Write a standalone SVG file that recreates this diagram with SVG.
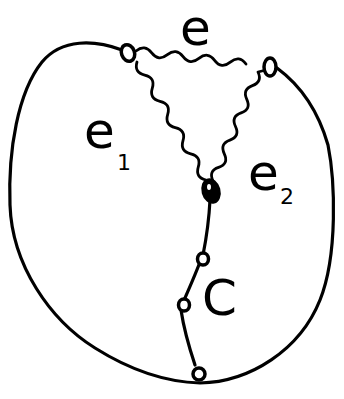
<svg xmlns="http://www.w3.org/2000/svg" width="344" height="399" viewBox="0 0 344 399">
<style>
.ln{fill:none;stroke:#000;stroke-width:3.2;stroke-linecap:round;stroke-linejoin:round}
.wv{fill:none;stroke:#000;stroke-width:2.8;stroke-linecap:round;stroke-linejoin:round}
.nd{fill:#fff;stroke:#000;stroke-width:3.5}
.lbl{font-family:"DejaVu Sans",sans-serif;fill:#000}
</style>
<rect width="344" height="399" fill="#fff"/>
<g id="connectors">
<path class="ln" d="M122,50 C95,40 62,38 42,62 C18,92 8,150 10,205 C12,265 50,320 95,348 C130,370 165,382 200,383 C250,382 300,350 320,300 C338,255 335,180 328,145 C318,110 300,85 277,68"/>
<path class="wv" d="M136,51 Q144.8,44 151.7,52.9 T167.4,54.7 T183.1,56.6 T198.9,58.4 T214.6,60.3 T230.3,62.1 T246,64"/>
<path class="wv" d="M137,62 Q133.9,72.6 144.7,75.1 T152.3,88.2 T160,101.3 T167.7,114.4 T175.3,127.6 T183,140.7 T190.7,153.8 T198.3,166.9 T206,180"/>
<path class="wv" d="M266,70 L258,72 Q262.6,81.9 252.4,85.6 T246.8,99.3 T241.1,112.9 T235.5,126.5 T229.9,140.1 T224.3,153.8 T218.6,167.4 T213,181"/>
<path class="ln" d="M210,200 C209,220 206,240 203,255 M200,262 C194,278 187,293 182,305 M181,310 C184,330 190,350 195,365"/>
</g>
<g id="n1"><ellipse class="nd" cx="128" cy="53" rx="6.5" ry="8.5" transform="rotate(-20 128 53)"/></g>
<g id="n2"><ellipse class="nd" cx="270" cy="67" rx="6" ry="9"/></g>
<g id="n3"><ellipse cx="211" cy="191" rx="9.5" ry="13" fill="#000" transform="rotate(-15 211 191)"/><ellipse cx="209" cy="187" rx="2" ry="3" fill="#fff"/></g>
<g id="n4"><ellipse class="nd" cx="203" cy="259" rx="5.5" ry="6"/></g>
<g id="n5"><ellipse class="nd" cx="184" cy="305" rx="5.5" ry="6"/></g>
<g id="n6"><ellipse class="nd" cx="199" cy="374" rx="6" ry="6"/></g>
<g id="labels">
<text class="lbl" x="180" y="45" font-size="50">e</text>
<text class="lbl" x="84" y="148" font-size="50">e</text>
<text class="lbl" x="117" y="170" font-size="22">1</text>
<text class="lbl" x="248" y="190" font-size="50">e</text>
<text class="lbl" x="280" y="204" font-size="22">2</text>
<text class="lbl" x="202" y="315" font-size="50">C</text>
</g>
</svg>
